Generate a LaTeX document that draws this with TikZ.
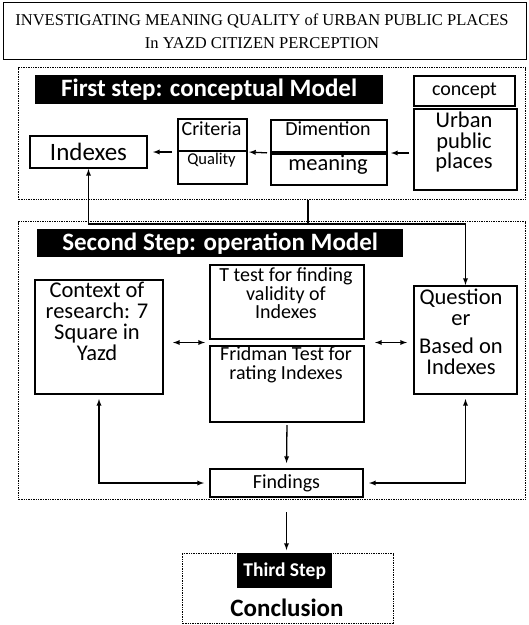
\documentclass[tikz,border=0pt]{standalone}
\usepackage{fontspec}
\setmainfont{Liberation Serif}
\newfontfamily\calib{Carlito}
\usetikzlibrary{calc, arrows}

\tikzset{
  box/.style={draw, line width=2pt, inner sep=0pt},
  dotbox/.style={draw, densely dotted, line width=1.4pt, inner sep=0pt},
  banner/.style={fill=black, text=white, inner sep=0pt,
    font=\calib\bfseries\fontsize{25}{28}\selectfont},
  txt/.style={font=\calib\fontsize{20}{18.5}\selectfont, align=center, inner sep=0pt},
  txtbig/.style={font=\calib\fontsize{22.5}{20.5}\selectfont, align=center, inner sep=0pt},
  con/.style={line width=1.3pt, -latex},
  con2/.style={line width=1.3pt, latex-latex},
}

\begin{document}
\begin{tikzpicture}[x=1pt,y=-1pt]
      \useasboundingbox (0,0) rectangle (529,625);
      % title
      \node[box, line width=1.2pt, minimum width=523, minimum height=57, anchor=north west] (title) at (3,2) {};
      \node[font=\fontsize{16.5}{23}\selectfont, align=center, inner sep=0pt] (titletxt) at (262,31.5)
          {INVESTIGATING MEANING QUALITY of URBAN PUBLIC PLACES\\In YAZD CITIZEN PERCEPTION};
      % first step
      \node[dotbox, minimum width=507, minimum height=132, anchor=north west] (step1) at (18,67) {};
      \node[banner, minimum width=348, minimum height=29, anchor=north west] (step1ban) at (35,75) {First step: conceptual Model};
      \node[box, minimum width=101, minimum height=30, anchor=north west, txt] (concept) at (413,75) {concept};
      \node[box, line width=2.4pt, minimum width=103, minimum height=81, anchor=north west] (urban) at (413,108) {};
      \node[txtbig] (urbantxt) at (464,142) {Urban\\public\\places};
      \node[box, minimum width=116, minimum height=32, anchor=north west] (dim) at (270,119) {};
      \node[txt] (dimtxt) at (328,129) {Dimention};
      \node[box, minimum width=116, minimum height=33, anchor=north west] (meaning) at (270,151) {};
      \node[txtbig] (meaningtxt) at (328,165) {meaning};
      \draw[line width=3pt] (dim.south west) -- (dim.south east);
      \node[box, minimum width=69, minimum height=32, anchor=north west] (crit) at (177,118) {};
      \node[txt] (crittxt) at (211.5,129) {Criteria};
      \node[box, minimum width=69, minimum height=33, anchor=north west] (qual) at (177,150) {};
      \node[txt, font=\calib\fontsize{16.5}{18}\selectfont] (qualtxt) at (211.5,160) {Quality};
      \node[box, minimum width=117, minimum height=32, anchor=north west,
            font=\calib\fontsize{25}{28}\selectfont] (indexes) at (29,135) {Indexes};
      \draw[con, shorten <=4pt, shorten >=3pt] (urban.west |- dim.south east) -- (dim.south east);
      \draw[con, shorten <=3pt, shorten >=1pt] (dim.south west) -- (crit.south east);
      \draw[con, shorten <=5pt, shorten >=5pt] (crit.south west) -- (indexes.east |- crit.south west);
      % second step
      \node[dotbox, minimum width=507, minimum height=278, anchor=north west] (step2) at (18,221) {};
      \node[banner, minimum width=366, minimum height=28, anchor=north west] (step2ban) at (37,229) {Second Step: operation Model};
      \node[box, minimum width=154, minimum height=74, anchor=north west] (ttest) at (209,264) {};
      \node[txt] (ttesttxt) at (286,293.5) {T test for finding\\validity of\\Indexes};
      \node[box, minimum width=154, minimum height=76, anchor=north west] (fridman) at (209,345) {};
      \node[txt] (fridmantxt) at (286,365) {Fridman Test for\\rating Indexes};
      \node[box, minimum width=128, minimum height=114, anchor=north west] (context) at (34,279) {};
      \node[txtbig, font=\calib\fontsize{22.5}{21}\selectfont] (contexttxt) at (97,321.5) {Context of\\research: 7\\Square in\\Yazd};
      \node[box, minimum width=103, minimum height=108, anchor=north west] (quest) at (413,285) {};
      \node[txtbig] (questtxt) at (461,332) {Question\\er\\[8pt]Based on\\Indexes};
      \node[box, minimum width=153, minimum height=28, anchor=north west, txt] (findings) at (209,468) {Findings};
      \coordinate (join) at (308,224);
      \coordinate (midl) at ($(ttest.south west)!0.5!(fridman.north west)$);
      \draw[line width=1.3pt] (join |- step1.south) -- (join);
      \draw[con] (join) -| (indexes.south);
      \draw[con] (join) -| (quest.north);
      \draw[con2, shorten <=9pt, shorten >=4pt] (context.east |- midl) -- (midl);
      \draw[con2, shorten <=10pt, shorten >=6pt] (midl -| ttest.east) -- (midl -| quest.west);
      \draw[con, shorten <=2pt, shorten >=5pt] (fridman.south) -- (findings.north);
      \draw[con2, shorten <=4pt, shorten >=5pt] (context.south) |- (findings.west);
      \draw[con2, shorten <=4pt, shorten >=5pt] (quest.south) |- (findings.east);
      % third step
      \node[dotbox, minimum width=211, minimum height=70, anchor=north west] (step3) at (182,553) {};
      \node[banner, font=\calib\bfseries\fontsize{19.5}{22}\selectfont, minimum width=95, minimum height=35,
            anchor=north west] (step3ban) at (237,553) {Third Step};
      \node[font=\calib\bfseries\fontsize{25}{28}\selectfont, inner sep=0pt] (concl) at (287,608) {Conclusion};
      \draw[con, shorten <=12pt, shorten >=3pt] (step2.south -| findings.south) -- (step3.north -| findings.south);
\end{tikzpicture}
\end{document}
